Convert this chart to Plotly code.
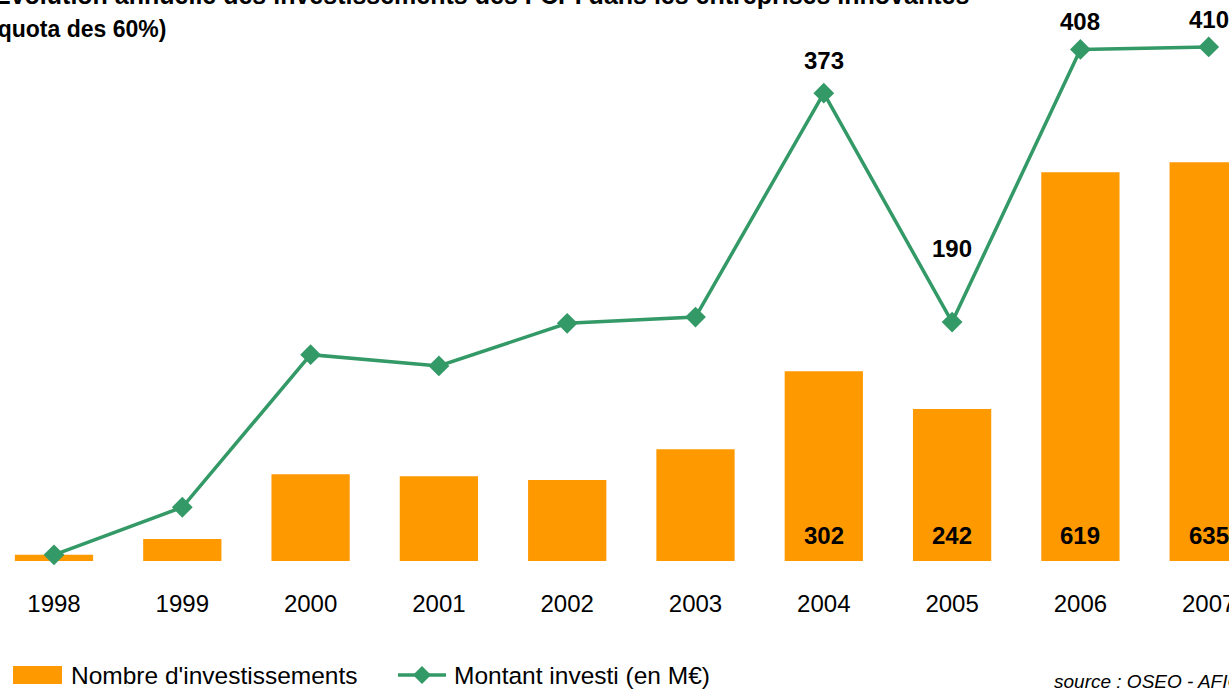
import plotly.graph_objects as go

# ---- data ----
years = ["1998", "1999", "2000", "2001", "2002", "2003", "2004", "2005", "2006", "2007"]
nb_investissements = [10, 35, 138, 135, 129, 178, 302, 242, 619, 635]
montant_investi = [4, 42, 164, 155, 189, 194, 373, 190, 408, 410]
bar_labelled_years = ["2004", "2005", "2006", "2007"]
line_labelled_years = ["2004", "2005", "2006", "2007"]

title_line1 = "Évolution annuelle des investissements des FCPI dans les entreprises innovantes"
title_line2 = "(quota des 60%)"
legend_bar = "Nombre d'investissements"
legend_line = "Montant investi (en M€)"
source_text = "source : OSEO - AFIC"

# ---- style / layout constants ----
ORANGE = "#FF9900"
GREEN = "#339966"
FONT = "Liberation Sans, Arial, sans-serif"
W, H = 1229, 690
PLOT_BOTTOM = 561
X0, X_STEP = 54, 128.3     # category centre spacing (px)
BAR_PX_PER_UNIT = 0.628
LINE_PX_PER_UNIT = 1.251
LINE_ZERO = 559.8
line_label_shift = {"2004": 17, "2005": 58, "2006": 12, "2007": 12}


def px_x(s):
    return s / W


def px_y(s):
    return 1 - s / PLOT_BOTTOM


x_left = -X0 / X_STEP
x_right = x_left + W / X_STEP
y2_range = [(LINE_ZERO - PLOT_BOTTOM) / LINE_PX_PER_UNIT, LINE_ZERO / LINE_PX_PER_UNIT]

fig = go.Figure()

fig.add_trace(go.Bar(
    x=years, y=nb_investissements, name=legend_bar,
    marker=dict(color=ORANGE, line=dict(width=0)),
    width=0.61, yaxis="y", hoverinfo="x+y",
))

fig.add_trace(go.Scatter(
    x=years, y=montant_investi, name=legend_line, yaxis="y2",
    mode="lines+markers",
    line=dict(color=GREEN, width=3.5),
    marker=dict(symbol="diamond", size=16, color=GREEN),
    cliponaxis=False,
))

annotations = []
for i, (yr, v) in enumerate(zip(years, nb_investissements)):
    if yr in bar_labelled_years:
        annotations.append(dict(
            x=i, y=0, xref="x", yref="y", text=f"<b>{v}</b>", showarrow=False,
            yanchor="bottom", xanchor="center", yshift=10,
            font=dict(family=FONT, size=24, color="black"),
        ))
for i, (yr, v) in enumerate(zip(years, montant_investi)):
    if yr in line_labelled_years:
        annotations.append(dict(
            x=i, y=v, xref="x", yref="y2", text=f"<b>{v}</b>", showarrow=False,
            yanchor="bottom", xanchor="center", yshift=line_label_shift[yr],
            font=dict(family=FONT, size=24, color="black"),
        ))

annotations.append(dict(
    x=px_x(-8), y=px_y(-5), xref="paper", yref="paper", text=f"<b>{title_line1}</b>",
    showarrow=False, xanchor="left", yanchor="middle",
    font=dict(family=FONT, size=25, color="black"),
))
annotations.append(dict(
    x=px_x(-12), y=px_y(29), xref="paper", yref="paper", text=f"<b>{title_line2}</b>",
    showarrow=False, xanchor="left", yanchor="middle",
    font=dict(family=FONT, size=23, color="black"),
))
annotations.append(dict(
    x=px_x(69), y=px_y(675), xref="paper", yref="paper", text=legend_bar,
    showarrow=False, xanchor="left", yanchor="middle",
    font=dict(family=FONT, size=24.5, color="black"),
))
annotations.append(dict(
    x=px_x(452), y=px_y(675), xref="paper", yref="paper", text=legend_line,
    showarrow=False, xanchor="left", yanchor="middle",
    font=dict(family=FONT, size=24.5, color="black"),
))
annotations.append(dict(
    x=px_x(1052), y=px_y(681), xref="paper", yref="paper", text=f"<i>{source_text}</i>",
    showarrow=False, xanchor="left", yanchor="middle",
    font=dict(family=FONT, size=19, color="black"),
))

shapes = [
    dict(type="rect", xref="paper", yref="paper",
         x0=px_x(13), x1=px_x(62), y0=px_y(684), y1=px_y(666),
         fillcolor=ORANGE, line=dict(width=0)),
    dict(type="line", xref="paper", yref="paper",
         x0=px_x(398), x1=px_x(446), y0=px_y(675), y1=px_y(675),
         line=dict(color=GREEN, width=3.5)),
    dict(type="path", xref="paper", yref="paper",
         path=(f"M {px_x(422)} {px_y(666)} L {px_x(431)} {px_y(675)} "
               f"L {px_x(422)} {px_y(684)} L {px_x(413)} {px_y(675)} Z"),
         fillcolor=GREEN, line=dict(width=0)),
]

fig.update_layout(
    width=W, height=H,
    margin=dict(l=0, r=0, t=0, b=H - PLOT_BOTTOM, pad=0, autoexpand=False),
    paper_bgcolor="white", plot_bgcolor="white",
    showlegend=False,
    bargap=0.39,
    font=dict(family=FONT, color="black"),
    xaxis=dict(
        type="category", range=[x_left, x_right], automargin=False,
        showgrid=False, zeroline=False, showline=False, ticks="",
        tickfont=dict(family=FONT, size=24, color="black"),
        ticklabelstandoff=26,
    ),
    yaxis=dict(range=[0, PLOT_BOTTOM / BAR_PX_PER_UNIT], visible=False, automargin=False),
    yaxis2=dict(range=y2_range, visible=False, overlaying="y", side="right", automargin=False),
    annotations=annotations,
    shapes=shapes,
)

fig.write_html(
    "out.html",
    config={"displayModeBar": False},
    post_script="document.body.style.margin='0px';",
)
